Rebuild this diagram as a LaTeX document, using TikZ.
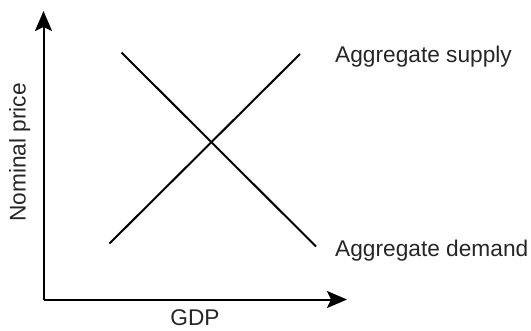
\documentclass[tikz,border=0pt]{standalone}
\usepackage{fontspec}
\setmainfont{Liberation Sans}
\usetikzlibrary{arrows.meta}
\begin{document}
\begin{tikzpicture}[x=1bp,y=-1bp,
  axis/.style={line width=2bp,-{Stealth[length=20bp,width=17bp,inset=4bp]}},
  curve/.style={line width=2bp},
  lbl/.style={inner sep=0pt,font=\fontsize{22.7bp}{27bp}\selectfont,text=black!85}]
\useasboundingbox (0,0) rectangle (531,330);
\coordinate (origin) at (43.5,299.5);
\coordinate (ytip) at (43.5,11);
\coordinate (xtip) at (347,299.5);
\coordinate (s1) at (109.5,243.5);
\coordinate (s2) at (300,54);
\coordinate (d1) at (121.5,52.5);
\coordinate (d2) at (316,246.5);
\draw[axis] (origin) -- (ytip);
\draw[axis] (origin) -- (xtip);
\draw[curve] (s1) -- (s2);
\draw[curve] (d1) -- (d2);
\node[lbl,anchor=base west] (as) at (335,62) {Aggregate supply};
\node[lbl,anchor=base west] (ad) at (335,256.5) {Aggregate demand};
\node[lbl,anchor=base] (gdp) at (195,325.5) {GDP};
\node[lbl,anchor=base,rotate=90] (np) at (25.5,152.5) {Nominal price};
\end{tikzpicture}
\end{document}
